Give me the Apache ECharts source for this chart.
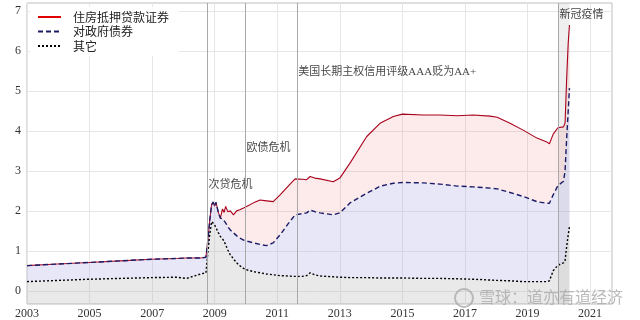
<!DOCTYPE html>
<html><head><meta charset="utf-8">
<script src="https://cdn.jsdelivr.net/npm/echarts@6/dist/echarts.min.js"></script>
<style>html,body{margin:0;padding:0;background:#fff}#c{width:640px;height:320px}</style>
</head><body><div id="c"></div>
<script>
// decimal years
const dates = [2003.00,2004.00,2005.00,2006.00,2007.00,2007.80,2008.10,2008.55,2008.72,2008.78,2008.84,2008.90,2008.95,2008.99,2009.04,2009.12,2009.18,2009.25,2009.30,2009.35,2009.42,2009.50,2009.60,2009.70,2009.80,2009.92,2010.05,2010.24,2010.45,2010.66,2010.87,2011.09,2011.35,2011.57,2011.80,2011.94,2012.05,2012.20,2012.37,2012.79,2013.00,2013.33,2013.86,2014.30,2014.71,2015.00,2015.66,2016.20,2016.75,2017.26,2017.80,2018.03,2018.44,2018.86,2019.30,2019.62,2019.70,2019.82,2019.97,2020.15,2020.20,2020.25,2020.30,2020.34];
// solid line level (total)
const totalLevel = [0.63,0.67,0.71,0.75,0.79,0.81,0.82,0.82,0.84,1.25,1.75,2.15,2.22,2.12,2.21,1.95,1.82,2.05,1.96,2.11,1.98,2.00,1.90,2.00,2.03,2.07,2.12,2.20,2.27,2.25,2.23,2.40,2.62,2.80,2.79,2.78,2.86,2.82,2.80,2.73,2.82,3.20,3.86,4.20,4.36,4.42,4.40,4.40,4.38,4.40,4.37,4.34,4.19,4.02,3.82,3.72,3.68,3.92,4.08,4.10,4.20,5.30,6.20,6.65];
// dashed line level
const govLevel = [0.63,0.67,0.71,0.75,0.79,0.81,0.82,0.82,0.84,1.25,1.75,2.15,2.22,2.12,2.21,1.95,1.82,1.80,1.76,1.70,1.60,1.52,1.45,1.38,1.32,1.27,1.24,1.20,1.16,1.13,1.20,1.40,1.68,1.90,1.93,1.95,2.02,1.98,1.95,1.90,1.95,2.20,2.44,2.62,2.69,2.71,2.70,2.67,2.62,2.60,2.57,2.55,2.46,2.36,2.23,2.19,2.19,2.40,2.63,2.74,3.00,3.80,4.50,5.07];
// dotted line level
const otherLevel = [0.23,0.26,0.29,0.31,0.33,0.34,0.31,0.42,0.45,0.95,1.40,1.73,1.70,1.66,1.62,1.45,1.36,1.30,1.24,1.15,1.02,0.90,0.80,0.70,0.63,0.56,0.52,0.48,0.45,0.42,0.40,0.38,0.37,0.36,0.36,0.38,0.45,0.40,0.37,0.35,0.34,0.33,0.33,0.32,0.32,0.32,0.31,0.31,0.30,0.29,0.27,0.26,0.25,0.23,0.23,0.23,0.25,0.50,0.64,0.70,0.76,1.10,1.40,1.60];
const seriesNames = ['住房抵押贷款证券','对政府债券','其它'];
const xTickYears = [2003,2005,2007,2009,2011,2013,2015,2017,2019,2021];
const yTicks = [0,1,2,3,4,5,6,7];
const eventYears = [2008.755, 2009.97, 2011.625, 2019.975];
const eventLabels = ['次贷危机','欧债危机','美国长期主权信用评级AAA贬为AA+','新冠疫情'];
const eventLabelY = [2.65, 3.57, 5.47, 6.89];
const covidSpan = [2019.975, 2020.34];
const xRange = [2003, 2021.7];
const yRange = [-0.33, 7.2];

const diff = (a,b) => a.map((v,i)=>Math.max(0, +(v-b[i]).toFixed(4)));
// value first, year second (encode maps x to column 1) so the stack applies to the value
const pairs = vals => dates.map((d,i)=>[vals[i], d]);
const otherPart = otherLevel;
const govPart = diff(govLevel, otherLevel);
const mbsPart = diff(totalLevel, govLevel);

const serif = "'Liberation Serif','Noto Sans CJK SC'";
const chart = echarts.init(document.getElementById('c'), null, {renderer:'canvas'});
const lineBase = {type:'line', stack:'all', symbol:'none', showSymbol:false, encode:{x:1, y:0}};
chart.setOption({
  animation:false,
  backgroundColor:'#fff',
  grid:{left:27,right:28,top:3,bottom:16,show:true,borderColor:'#bdbdbd',borderWidth:1,backgroundColor:'transparent',outerBoundsMode:'none'},
  legend:{
    data:[{name:seriesNames[0], lineStyle:{color:'#e00000'}}, {name:seriesNames[1]}, {name:seriesNames[2]}],
    orient:'vertical', left:30, top:7, padding:[4,10,4,7],
    backgroundColor:'#fff', itemWidth:23, itemHeight:12, itemGap:2.5,
    textStyle:{fontFamily:"'Noto Sans CJK SC'", fontSize:12, color:'#222', padding:[0,0,0,7], lineHeight:12},
    itemStyle:{opacity:0},
    lineStyle:{width:2}
  },
  xAxis:{type:'value', min:xRange[0], max:xRange[1],
    axisLine:{show:false},
    axisTick:{show:false, customValues:xTickYears},
    axisLabel:{customValues:xTickYears, formatter:v=>String(v),
      fontFamily:serif, fontSize:12, color:'#333', margin:4},
    splitLine:{show:true, lineStyle:{color:'#e6e6e6', width:1}}
  },
  yAxis:{type:'value', min:yRange[0], max:yRange[1],
    axisLine:{show:false},
    axisTick:{show:false, customValues:yTicks},
    axisLabel:{customValues:yTicks, fontFamily:serif, fontSize:12, color:'#333', margin:6},
    splitLine:{show:true, lineStyle:{color:'#e6e6e6', width:1}}
  },
  series:[
    Object.assign({}, lineBase, {name:seriesNames[2], data:pairs(otherPart), z:4,
     color:'#000', lineStyle:{color:'#000', width:1.4, type:[2,2]},
     areaStyle:{color:'rgba(180,180,180,0.42)', origin:'start'}}),
    Object.assign({}, lineBase, {name:seriesNames[1], data:pairs(govPart), z:3,
     color:'#1c1c66', lineStyle:{color:'#1c1c66', width:1.4, type:[5,3]},
     areaStyle:{color:'rgba(170,170,230,0.4)'}}),
    Object.assign({}, lineBase, {name:seriesNames[0], data:pairs(mbsPart), z:2,
     color:'#d00000', lineStyle:{color:'#a8001c', width:1.1},
     areaStyle:{color:'rgba(240,120,120,0.22)'}}),
    {name:'events', type:'scatter', z:1, silent:true, symbolSize:1, itemStyle:{color:'transparent'},
     data:eventYears.map((y,i)=>({name:eventLabels[i], value:[y, eventLabelY[i]]})),
     label:{show:true, position:'right', distance:1, formatter:'{b}', fontFamily:serif, fontSize:11, color:'#111'},
     markLine:{silent:true, symbol:['none','none'], label:{show:false},
       lineStyle:{color:'#a9a9a9', width:1, type:'solid'},
       data:eventYears.map(y=>({xAxis:y}))},
     markArea:{silent:true, itemStyle:{color:'rgba(120,120,120,0.12)'},
       data:[[{xAxis:covidSpan[0]},{xAxis:covidSpan[1]}]]}
    }
  ],
  graphic:[
    {type:'circle', z:100, shape:{cx:464, cy:298, r:9}, style:{fill:'none', stroke:'rgba(165,165,165,0.75)', lineWidth:2}},
    {type:'text', z:100, left:479, top:289, style:{text:'雪球：道亦有道经济', fontSize:16, fontFamily:'Noto Sans CJK SC', fill:'rgba(170,170,170,0.8)'}}
  ]
});
</script></body></html>
